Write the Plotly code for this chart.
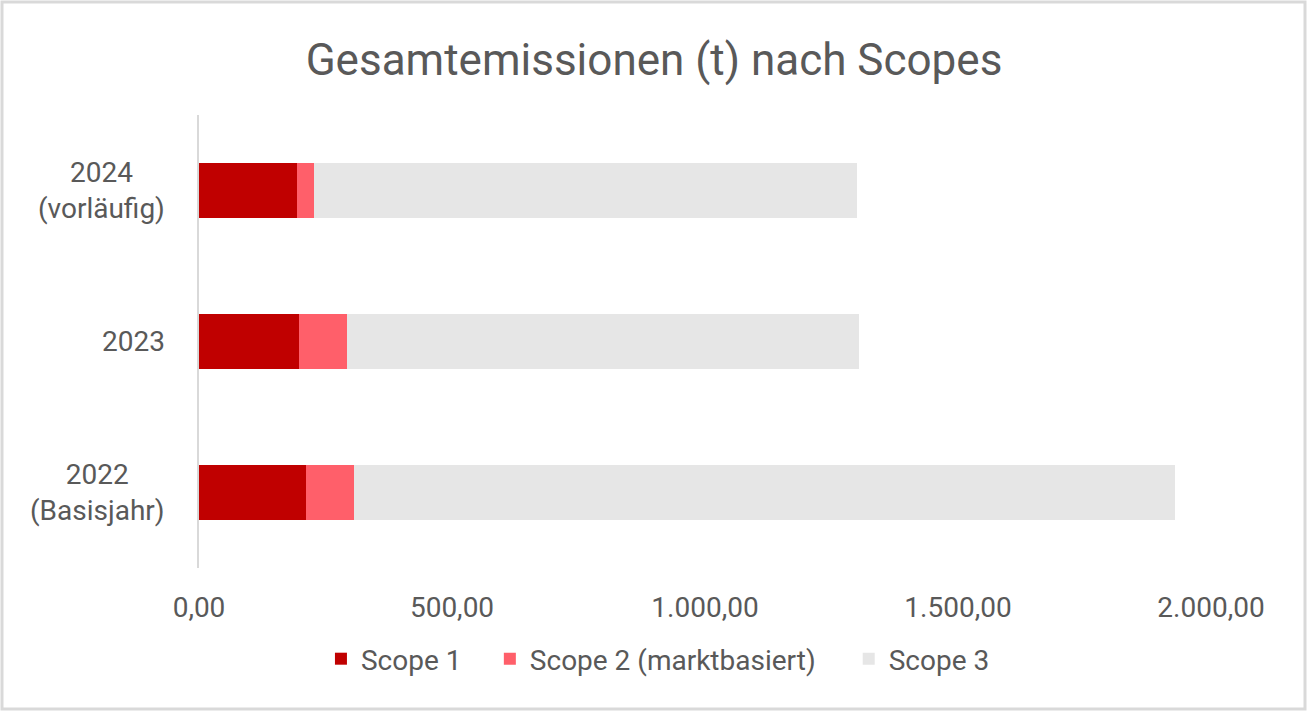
import plotly.graph_objects as go

# Data (tonnes CO2e)
years = ["2022", "2023", "2024"]
year_labels = ["2022<br>(Basisjahr)", "2023", "2024<br>(vorläufig)"]
scope_1 = [211, 198, 194]
scope_2 = [95, 95, 34]
scope_3 = [1623, 1011, 1072]

series_names = ["Scope 1", "Scope 2 (marktbasiert)", "Scope 3"]
series_colors = ["#C00000", "#FF5F6A", "#E6E6E6"]

text_color = "#595959"
font_family = "Roboto, Arial, sans-serif"

# one legend per series so the entries can be spaced like the original
legend_ids = ["legend", "legend2", "legend3"]
legend_x = [0.1205, 0.2874, 0.642]

fig = go.Figure()
for name, values, color, lg in zip(series_names, [scope_1, scope_2, scope_3], series_colors, legend_ids):
    fig.add_trace(go.Bar(
        y=years, x=values, name=name, orientation="h",
        marker=dict(color=color, line=dict(width=0)),
        legend=lg,
    ))

# Category labels: centred lines, right aligned block (like Excel)
for i, label in enumerate(year_labels):
    fig.add_annotation(
        x=0, xref="paper", y=i, yref="y",
        text=label, showarrow=False, xanchor="right", xshift=-32,
        align="center", font=dict(size=28, color=text_color, family=font_family),
    )

legend_style = dict(
    orientation="h", xanchor="left",
    y=-(659 - 568) / 453, yanchor="middle",
    font=dict(size=28, color=text_color),
    bgcolor="rgba(0,0,0,0)",
)

fig.update_layout(
    width=1308, height=712,
    margin=dict(l=199, r=97, t=115, b=144),
    paper_bgcolor="white", plot_bgcolor="white",
    barmode="stack", bargap=0.63,
    separators=",.",
    font=dict(family=font_family, color=text_color, size=28),
    title=dict(
        text="Gesamtemissionen (t) nach Scopes",
        x=0.5, xref="container", xanchor="center",
        y=1 - 60 / 712, yref="container", yanchor="middle",
        font=dict(size=44, color=text_color, family=font_family),
    ),
    xaxis=dict(
        range=[0, 2000], dtick=500, tickformat=",.2f",
        showgrid=False, zeroline=False, showline=False,
        ticklabelstandoff=20, automargin=False,
        tickfont=dict(size=28, color=text_color),
    ),
    yaxis=dict(
        type="category", range=[-0.5, 2.5],
        showticklabels=False, showgrid=False, zeroline=False,
        showline=True, linecolor="#D9D9D9", linewidth=2, automargin=False,
        categoryorder="array", categoryarray=years,
    ),
    legend=dict(x=legend_x[0], **legend_style),
    legend2=dict(x=legend_x[1], **legend_style),
    legend3=dict(x=legend_x[2], **legend_style),
    showlegend=True,
)

# light grey chart border
fig.add_shape(
    type="rect", xref="paper", yref="paper",
    x0=(2 - 199) / 1012, x1=(1305 - 199) / 1012,
    y0=(568 - 709) / 453, y1=(568 - 2) / 453,
    line=dict(color="#D9D9D9", width=3), layer="below",
)

# drop the default page margin so the chart sits at the window's corner
fig.write_html(
    "out.html",
    config={"displayModeBar": False},
    post_script="document.body.style.margin = '0';",
)
